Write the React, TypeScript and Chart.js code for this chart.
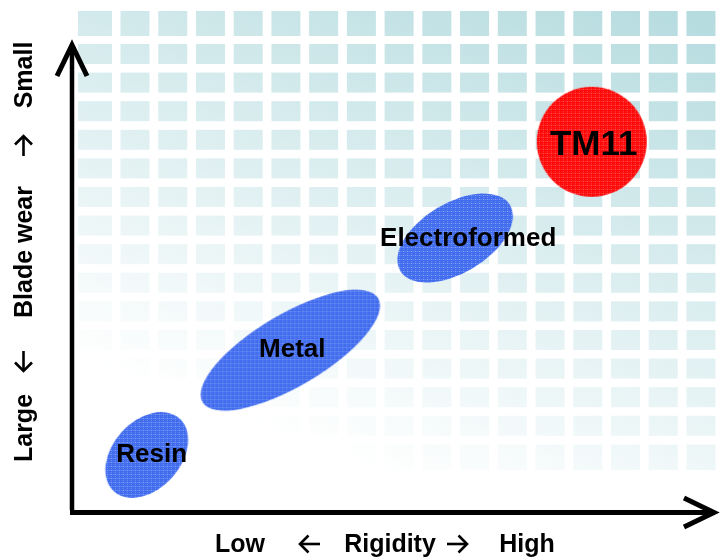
import React, { useEffect, useRef } from "react";
import { Chart, registerables } from "chart.js";

Chart.register(...registerables);

// ---- data ----
const categories = ["Resin", "Metal", "Electroformed", "TM11"];
const rigidity = [1.16, 3.39, 5.95, 8.07]; // x: Low -> High
const bladeWear = [1.14, 3.23, 5.47, 7.39]; // y: Large -> Small
const semiMajor = [49, 102, 64, 55]; // px
const semiMinor = [34, 36, 35, 55]; // px
const tiltDeg = [48, 30.6, 31, 0];
const xAxisWords = ["Low", "\u2190", "Rigidity", "\u2192", "High"];
const yAxisWords = ["Large", "\u2190", "Blade wear", "\u2192", "Small"];

// ---- styles ----
const FONT = '"Liberation Sans", Arial, Helvetica, sans-serif';
const kinds = ["blue", "blue", "blue", "red"];
const labelFont = [26, 26, 26, 35];
const labelDx = [5, 2, 13, 2];
const labelDy = [7, 7, 8, 13];
const xWordCenters = [240, 310, 390, 457, 527];
const yWordCenters = [428, 361, 252, 146, 75];

function makePattern(ctx: CanvasRenderingContext2D, base: string, light: string, light2: string) {
  const c = document.createElement("canvas");
  c.width = 4;
  c.height = 4;
  const g = c.getContext("2d")!;
  g.fillStyle = base;
  g.fillRect(0, 0, 4, 4);
  g.fillStyle = light2;
  g.fillRect(2, 0, 1, 1);
  g.fillRect(0, 2, 1, 1);
  g.fillStyle = light;
  g.fillRect(0, 0, 1, 1);
  return ctx.createPattern(c, "repeat")!;
}

function makeShape(a: number, b: number, tilt: number, kind: string) {
  const t = (tilt * Math.PI) / 180;
  const hx = Math.sqrt(a * a * Math.cos(t) ** 2 + b * b * Math.sin(t) ** 2);
  const hy = Math.sqrt(a * a * Math.sin(t) ** 2 + b * b * Math.cos(t) ** 2);
  const w = 2 * Math.ceil(hx) + 4;
  const h = 2 * Math.ceil(hy) + 4;
  const c = document.createElement("canvas");
  c.width = w;
  c.height = h;
  const g = c.getContext("2d")!;
  g.fillStyle =
    kind === "red"
      ? makePattern(g, "rgb(255,8,8)", "rgb(255,120,120)", "rgb(255,70,70)")
      : makePattern(g, "rgb(66,108,238)", "rgb(150,178,250)", "rgb(110,145,246)");
  g.beginPath();
  g.ellipse(w / 2, h / 2, a, b, -t, 0, Math.PI * 2);
  g.fill();
  return c;
}

// arrow glyph drawn as a path; local frame points in +x direction when sign=1
function drawGlyphArrow(ctx: CanvasRenderingContext2D, sign: number) {
  const half = 10;
  const head = 8.5;
  ctx.beginPath();
  ctx.moveTo(-half * sign, 0);
  ctx.lineTo(half * sign, 0);
  ctx.stroke();
  ctx.beginPath();
  ctx.moveTo((half - head) * sign, -head);
  ctx.lineTo(half * sign, 0);
  ctx.lineTo((half - head) * sign, head);
  ctx.stroke();
}

const backgroundPlugin = {
  id: "bgGrid",
  beforeDatasetsDraw(chart: any) {
    const ctx = chart.ctx as CanvasRenderingContext2D;
    ctx.save();
    const grad = ctx.createLinearGradient(-37, 318, 168, -230);
    grad.addColorStop(0, "rgb(255,255,255)");
    grad.addColorStop(1, "rgb(176,217,221)");
    ctx.fillStyle = grad;
    const cols: [number, number][] = [[78, 34]];
    for (let i = 0; i < 16; i++) cols.push([120.5 + i * 37.73, 29]);
    const rows: [number, number][] = [[11, 25]];
    for (let k = 1; k <= 14; k++) rows.push([15.4 + 28.6 * k, 20]);
    rows.push([444.6, 25.4]);
    for (const [cx, cw] of cols) {
      for (const [ry, rh] of rows) {
        ctx.fillRect(cx, ry, cw, rh);
      }
    }
    // axes
    ctx.strokeStyle = "#000";
    ctx.lineWidth = 4.5;
    ctx.lineCap = "butt";
    ctx.lineJoin = "miter";
    ctx.beginPath();
    ctx.moveTo(72, 510);
    ctx.lineTo(72, 46);
    ctx.stroke();
    ctx.lineWidth = 5;
    ctx.beginPath();
    ctx.moveTo(70, 512.5);
    ctx.lineTo(712, 512.5);
    ctx.stroke();
    ctx.beginPath();
    ctx.moveTo(57, 76);
    ctx.lineTo(72, 45);
    ctx.lineTo(87, 76);
    ctx.stroke();
    ctx.beginPath();
    ctx.moveTo(684, 498);
    ctx.lineTo(714, 512.5);
    ctx.lineTo(684, 527);
    ctx.stroke();

    // axis titles
    ctx.fillStyle = "#000";
    ctx.font = `bold 25px ${FONT}`;
    ctx.textAlign = "center";
    ctx.textBaseline = "alphabetic";
    ctx.lineWidth = 2.6;
    ctx.lineCap = "butt";
    xAxisWords.forEach((w, i) => {
      if (w === "\u2190" || w === "\u2192") {
        ctx.save();
        ctx.translate(xWordCenters[i], 544);
        drawGlyphArrow(ctx, w === "\u2192" ? 1 : -1);
        ctx.restore();
      } else {
        ctx.fillText(w, xWordCenters[i], 552);
      }
    });
    yAxisWords.forEach((w, i) => {
      ctx.save();
      ctx.translate(32, yWordCenters[i]);
      ctx.rotate(-Math.PI / 2);
      if (w === "\u2190" || w === "\u2192") {
        ctx.translate(0, -8.5);
        drawGlyphArrow(ctx, w === "\u2192" ? 1 : -1);
      } else {
        ctx.fillText(w, 0, 0);
      }
      ctx.restore();
    });
    ctx.restore();
  },
};

const labelPlugin = {
  id: "shapeLabels",
  afterDatasetsDraw(chart: any) {
    const ctx = chart.ctx as CanvasRenderingContext2D;
    const meta = chart.getDatasetMeta(0);
    ctx.save();
    ctx.fillStyle = "#000";
    ctx.textAlign = "center";
    ctx.textBaseline = "alphabetic";
    meta.data.forEach((pt: any, i: number) => {
      ctx.font = `bold ${labelFont[i]}px ${FONT}`;
      ctx.fillText(categories[i], pt.x + labelDx[i], pt.y + labelDy[i]);
    });
    ctx.restore();
  },
};

export default function App() {
  const ref = useRef<HTMLCanvasElement | null>(null);
  useEffect(() => {
    if (!ref.current) return;
    const shapes = categories.map((_, i) => makeShape(semiMajor[i], semiMinor[i], tiltDeg[i], kinds[i]));
    const chart = new Chart(ref.current, {
      type: "scatter",
      data: {
        labels: categories,
        datasets: [
          {
            label: "Blade materials",
            data: rigidity.map((x, i) => ({ x, y: bladeWear[i] })),
            pointStyle: ((c: any) => shapes[c.dataIndex]) as any,
            pointRadius: 1,
            pointHoverRadius: 1,
            clip: false as any,
          },
        ],
      },
      options: {
        responsive: false,
        animation: false,
        devicePixelRatio: 1,
        events: [],
        layout: { padding: { left: 72, right: 10, top: 11, bottom: 45 } },
        scales: {
          x: { type: "linear", min: 0, max: 10, display: false },
          y: { type: "linear", min: 0, max: 10, display: false },
        },
        plugins: { legend: { display: false }, tooltip: { enabled: false } },
      },
      plugins: [backgroundPlugin, labelPlugin],
    });
    return () => chart.destroy();
  }, []);
  return (
    <div style={{ position: "fixed", left: 0, top: 0, width: 726, height: 557, background: "#fff" }}>
      <canvas ref={ref} width={726} height={557} style={{ display: "block" }} />
    </div>
  );
}
